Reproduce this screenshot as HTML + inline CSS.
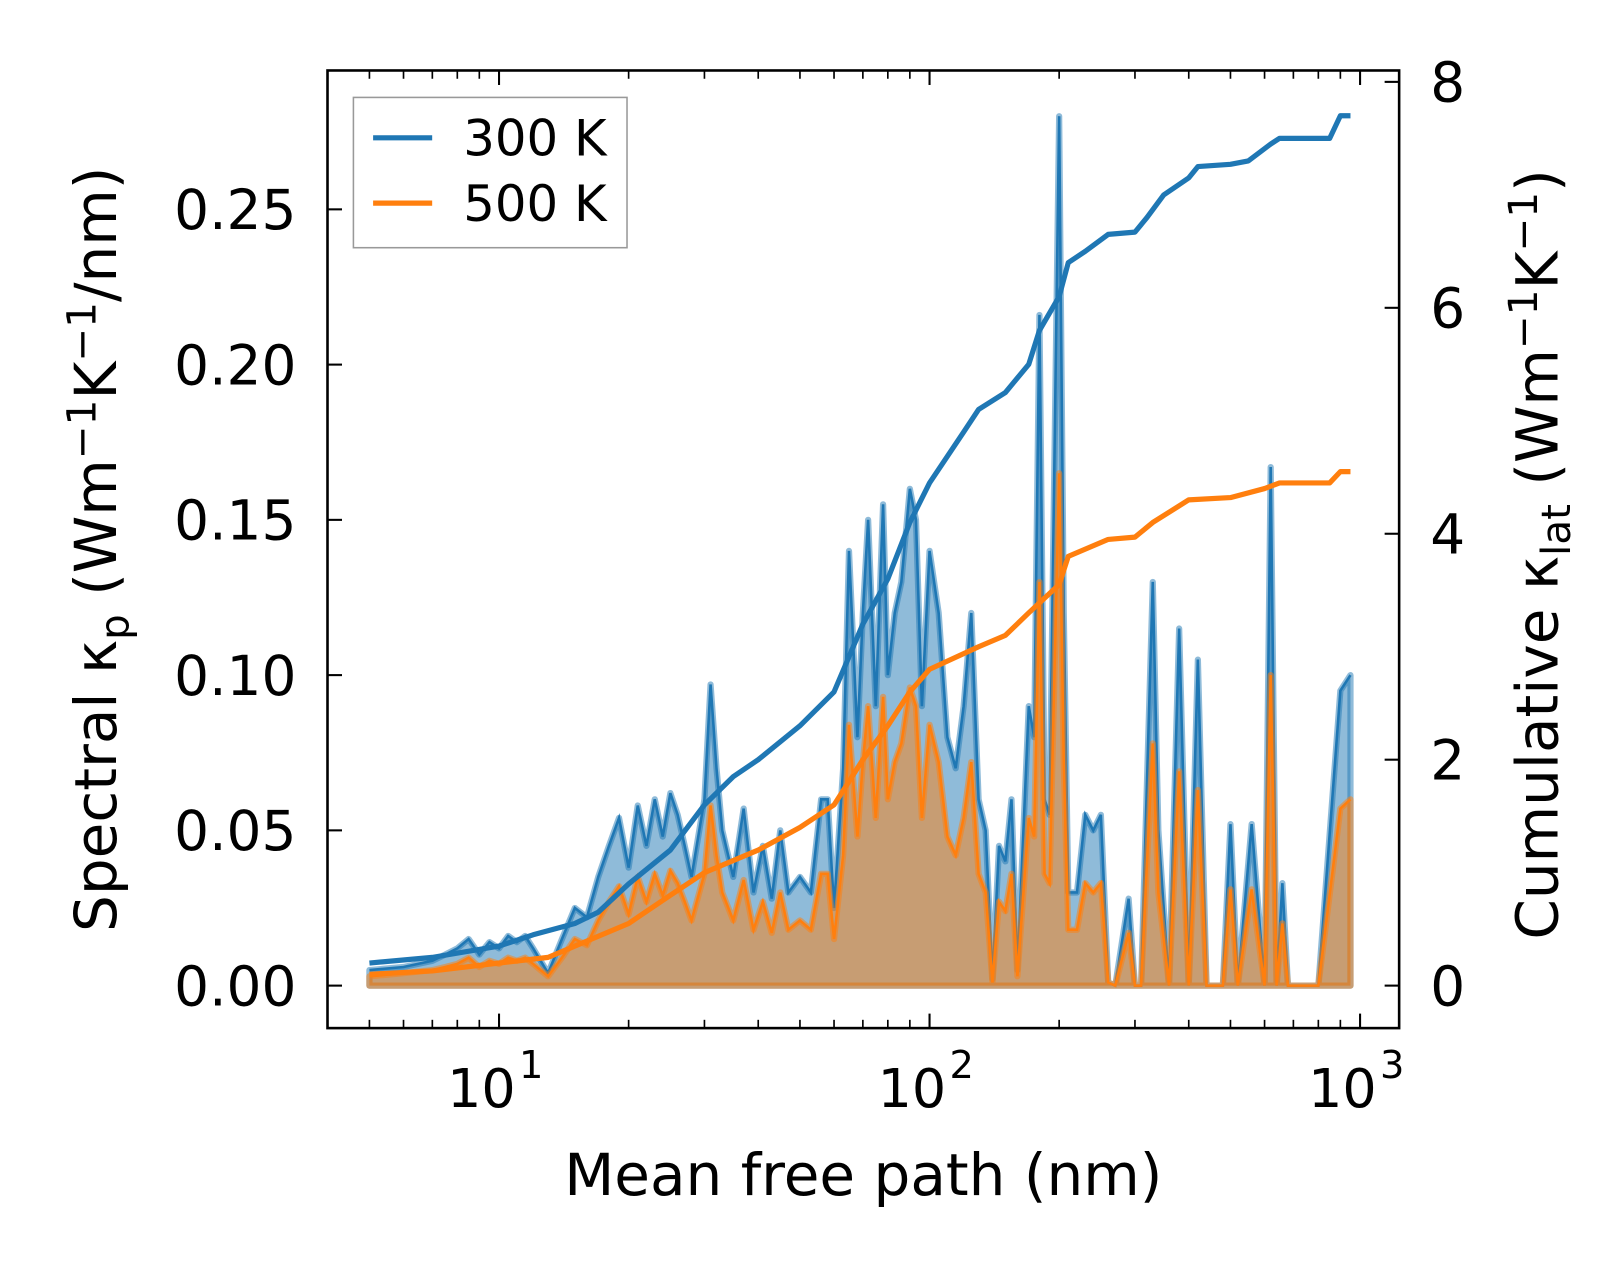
<!DOCTYPE html>
<html><head><meta charset="utf-8"><style>
body{margin:0;background:#fff}
svg{font-family:"DejaVu Sans","Liberation Sans",sans-serif}
</style></head><body>
<svg id="c" width="1623" height="1266" xmlns="http://www.w3.org/2000/svg"><g id="g" transform="scale(1.0364)"></g></svg>
<script>
const mfp=[5,6,7,7.5,8,8.5,9,9.5,10,10.5,11,11.5,12,13,14,15,16,17,18,19,20,21,22,23,24,25,26,27,28,30,31,32,33,35,37,39,41,43,45,47,50,53,56,58,60,63,65,68,70,72,75,78,80,83,86,90,93,96,100,105,110,115,120,125,130,135,140,145,150,155,160,170,175,180,185,190,200,205,210,220,230,240,250,260,270,290,300,310,330,340,360,380,400,420,440,480,500,520,560,600,620,640,660,680,800,900,950];
const k300=[0.005,0.006,0.008,0.01,0.012,0.015,0.01,0.014,0.012,0.016,0.014,0.016,0.012,0.004,0.015,0.025,0.022,0.035,0.045,0.054,0.038,0.058,0.045,0.06,0.048,0.062,0.055,0.045,0.035,0.06,0.097,0.07,0.05,0.035,0.057,0.03,0.045,0.028,0.05,0.03,0.035,0.03,0.06,0.06,0.025,0.07,0.14,0.08,0.12,0.15,0.09,0.155,0.1,0.12,0.13,0.16,0.15,0.09,0.14,0.12,0.08,0.07,0.09,0.12,0.06,0.05,0.002,0.045,0.04,0.06,0.005,0.09,0.08,0.216,0.06,0.055,0.28,0.12,0.03,0.03,0.055,0.05,0.055,0.001,0,0.028,0,0,0.13,0.05,0,0.115,0,0.105,0,0,0.052,0,0.052,0,0.167,0,0.033,0,0,0.095,0.1];
const k500=[0.003,0.004,0.005,0.006,0.007,0.009,0.006,0.008,0.007,0.009,0.008,0.009,0.007,0.003,0.009,0.015,0.013,0.021,0.027,0.032,0.023,0.035,0.027,0.036,0.029,0.037,0.033,0.027,0.021,0.036,0.058,0.042,0.03,0.021,0.034,0.018,0.027,0.017,0.03,0.018,0.021,0.018,0.036,0.036,0.015,0.042,0.084,0.048,0.072,0.09,0.054,0.093,0.06,0.072,0.078,0.096,0.09,0.054,0.084,0.072,0.048,0.042,0.054,0.072,0.036,0.03,0.001,0.027,0.024,0.036,0.003,0.054,0.048,0.13,0.036,0.033,0.165,0.072,0.018,0.018,0.033,0.03,0.033,0.001,0,0.017,0,0,0.078,0.03,0,0.069,0,0.063,0,0,0.031,0,0.031,0,0.1,0,0.02,0,0,0.057,0.06];
const cumX300=[5,7,10,12,15,17,20,25,30,35,40,50,60,70,80,90,100,120,130,150,170,180,200,210,230,260,300,320,350,400,420,500,550,620,650,850,900,950];
const cum300=[0.2,0.25,0.35,0.45,0.55,0.65,0.9,1.2,1.6,1.85,2.0,2.3,2.6,3.2,3.6,4.1,4.45,4.9,5.1,5.25,5.5,5.8,6.1,6.4,6.5,6.65,6.67,6.8,7.0,7.15,7.25,7.27,7.3,7.45,7.5,7.5,7.7,7.7];
const cumX500=[5,7,10,13,15,20,25,30,40,50,60,70,80,90,100,130,150,170,200,210,260,300,330,400,500,600,650,850,900,950];
const cum500=[0.1,0.13,0.2,0.25,0.35,0.55,0.8,1.0,1.2,1.4,1.6,2.0,2.3,2.6,2.8,3.0,3.1,3.3,3.55,3.8,3.95,3.97,4.1,4.3,4.32,4.4,4.45,4.45,4.55,4.55];
const yTicks=[0,0.05,0.10,0.15,0.20,0.25];
const yTickLabels=["0.00","0.05","0.10","0.15","0.20","0.25"];
const y2Ticks=[0,2,4,6,8];

const L=316,R=1350,T=68,B=992;
const X=v=>481.5+(Math.log10(v)-1)*415.4;
const Y=v=>951-v/0.05*149.8;
const Y2=v=>951-v*109;
const svg=document.getElementById('g');
const NS='http://www.w3.org/2000/svg';
function el(t,a,txt){const e=document.createElementNS(NS,t);for(const k in a)e.setAttribute(k,a[k]);if(txt!==undefined)e.textContent=txt;svg.appendChild(e);return e;}
function area(xs,ys){let d='M'+X(xs[0])+','+Y(0);xs.forEach((x,i)=>d+='L'+X(x)+','+Y(ys[i]));d+='L'+X(xs[xs.length-1])+','+Y(0)+'Z';return d;}
function line(xs,ys,f){return xs.map((x,i)=>(i?'L':'M')+X(x)+','+f(ys[i])).join('');}

let e;
e=el('path',{d:area(mfp,k300),fill:'rgba(31,119,180,0.5)',stroke:'rgba(31,119,180,0.5)','stroke-width':6,'stroke-linejoin':'round'});

e=el('path',{d:line(mfp,k300,Y),fill:'none',stroke:'#1f77b4','stroke-width':2.5});

e=el('path',{d:area(mfp,k500),fill:'rgba(255,127,14,0.5)',stroke:'rgba(255,127,14,0.5)','stroke-width':6,'stroke-linejoin':'round'});

e=el('path',{d:line(mfp,k500,Y),fill:'none',stroke:'#ff7f0e','stroke-width':2.5});

e=el('path',{d:line(cumX300,cum300,Y2),fill:'none',stroke:'#1f77b4','stroke-width':5,'stroke-linejoin':'round'});

e=el('path',{d:line(cumX500,cum500,Y2),fill:'none',stroke:'#ff7f0e','stroke-width':5,'stroke-linejoin':'round'});


e=el('rect',{x:L,y:T,width:R-L,height:B-T,fill:'none',stroke:'#000','stroke-width':2.5});

yTicks.forEach((v,i)=>{const y=Y(v);el('line',{x1:L,x2:L+14,y1:y,y2:y,stroke:'#000','stroke-width':2});
 e=el('text',{x:L-30,y:y+19,'text-anchor':'end','font-size':53},yTickLabels[i]);
 });
y2Ticks.forEach(v=>{const y=Y2(v);el('line',{x1:R,x2:R-14,y1:y,y2:y,stroke:'#000','stroke-width':2});
 e=el('text',{x:R+30,y:y+19,'font-size':53},String(v));
 });
[1,2,3].forEach(p=>{const x=X(Math.pow(10,p));
 el('line',{x1:x,x2:x,y1:B,y2:B-14,stroke:'#000','stroke-width':2});el('line',{x1:x,x2:x,y1:T,y2:T+14,stroke:'#000','stroke-width':2});
 e=el('text',{x:x-17,y:B+76,'text-anchor':'middle','font-size':52},'10');
 
 el('text',{x:x+31,y:B+48,'text-anchor':'middle','font-size':37},String(p));});
for(let p=0;p<3;p++)for(let m=2;m<10;m++){const v=m*Math.pow(10,p);const x=X(v);if(x<L||x>R)continue;
 el('line',{x1:x,x2:x,y1:B,y2:B-8,stroke:'#000','stroke-width':1.6});el('line',{x1:x,x2:x,y1:T,y2:T+8,stroke:'#000','stroke-width':1.6});}
e=el('text',{x:833,y:1153,'text-anchor':'middle','font-size':56},'Mean free path (nm)');

e=el('text',{transform:'translate(112,530) rotate(-90)','text-anchor':'middle','font-size':56});
e.innerHTML='Spectral κ<tspan font-size="39" dy="12">p</tspan><tspan dy="-12"> (Wm</tspan><tspan font-size="39" dy="-20">−1</tspan><tspan dy="20">K</tspan><tspan font-size="39" dy="-20">−1</tspan><tspan dy="20">/nm)</tspan>';

e=el('text',{transform:'translate(1503,535) rotate(-90)','text-anchor':'middle','font-size':56});
e.innerHTML='Cumulative κ<tspan font-size="39" dy="12">lat</tspan><tspan dy="-12"> (Wm</tspan><tspan font-size="39" dy="-20">−1</tspan><tspan dy="20">K</tspan><tspan font-size="39" dy="-20">−1</tspan><tspan dy="20">)</tspan>';

e=el('rect',{x:341,y:94,width:264,height:145,fill:'#fff','fill-opacity':0.8,stroke:'#999','stroke-width':1.5});

el('line',{x1:360,x2:417,y1:133,y2:133,stroke:'#1f77b4','stroke-width':5});
e=el('text',{x:447,y:150,'font-size':48},'300 K');
el('line',{x1:360,x2:417,y1:196,y2:196,stroke:'#ff7f0e','stroke-width':5});
e=el('text',{x:447,y:213,'font-size':48},'500 K');
</script>
</body></html>
